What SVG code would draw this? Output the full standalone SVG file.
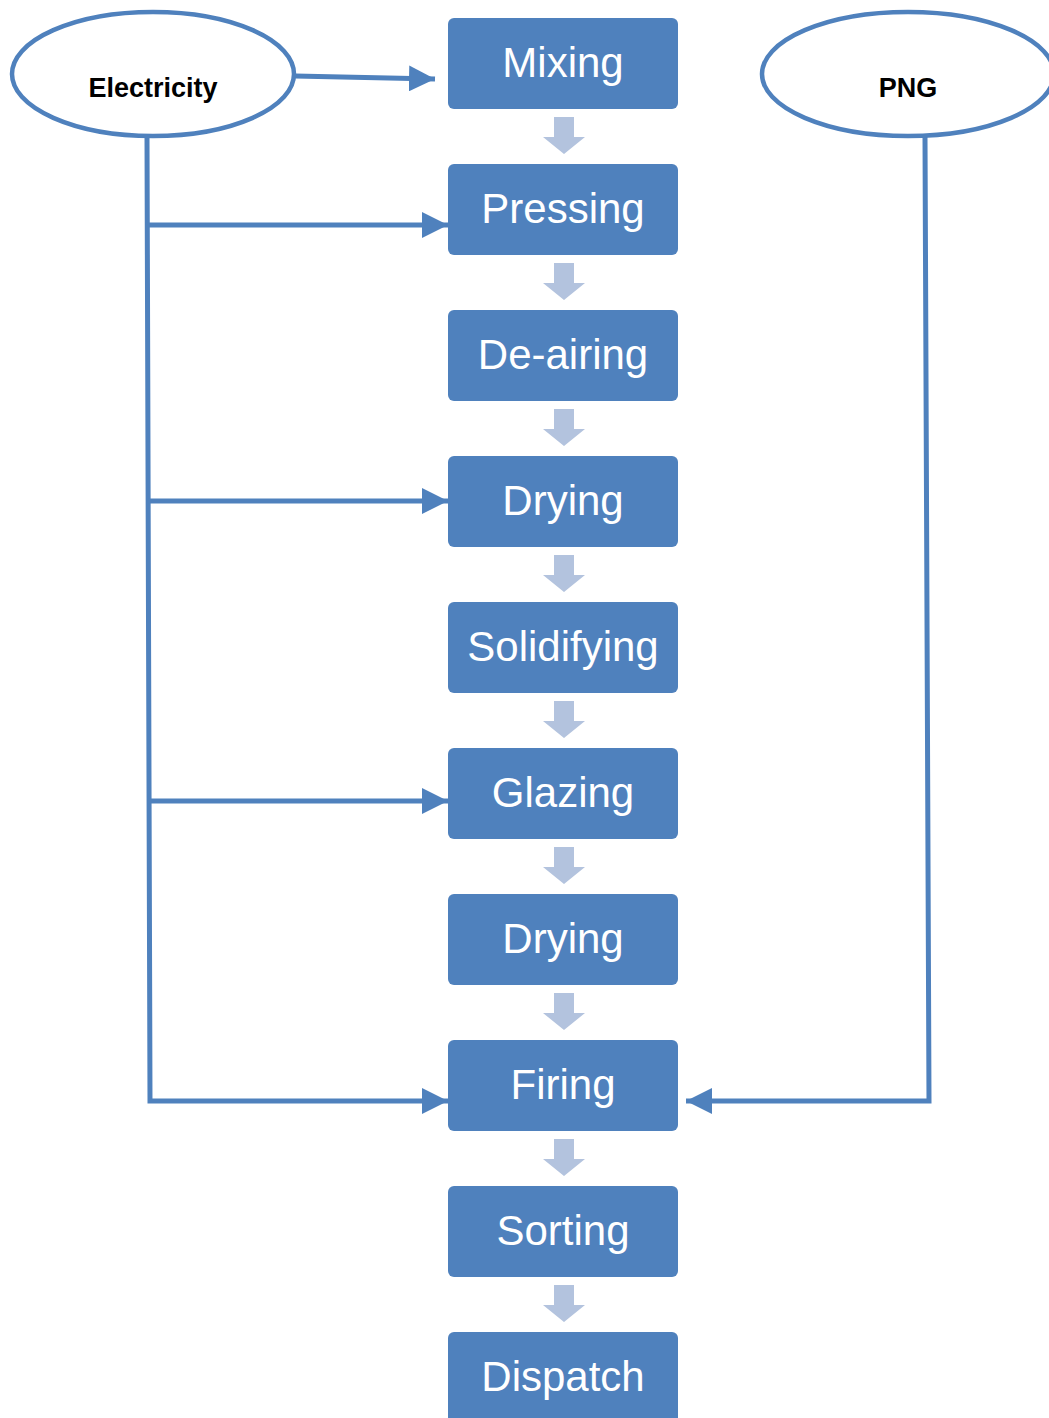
<svg xmlns="http://www.w3.org/2000/svg" width="1049" height="1418" viewBox="0 0 1049 1418">
<defs>
<style>
.box{fill:#4F81BD;stroke:none}
.lbl{font-family:"Liberation Sans",Arial,sans-serif;font-size:42px;fill:#fff;text-anchor:middle}
.src{fill:#fff;stroke:#4F81BD;stroke-width:4.5}
.srct{font-family:"Liberation Sans",Arial,sans-serif;font-size:27px;font-weight:bold;fill:#000;text-anchor:middle}
.ln{fill:none;stroke:#4F81BD;stroke-width:5}
.down{fill:#B3C3DE}
</style>
<marker id="ah" markerUnits="userSpaceOnUse" markerWidth="26" markerHeight="26" viewBox="0 0 24 24" refX="24" refY="12" orient="auto">
<path d="M0,0 L24,12 L0,24 Z" fill="#4F81BD"/>
</marker>
<path id="dn" class="down" d="M-10,0 H10 V20 H21 L0,37 L-21,20 H-10 Z"/>
</defs>
<rect width="1049" height="1418" fill="#fff"/>
<g id="connectors">
<line class="ln" x1="295" y1="76" x2="435" y2="79" marker-end="url(#ah)"/>
<polyline class="ln" points="147,137 150,1101 448,1101" marker-end="url(#ah)"/>
<line class="ln" x1="147" y1="225" x2="448" y2="225" marker-end="url(#ah)"/>
<line class="ln" x1="148" y1="501" x2="448" y2="501" marker-end="url(#ah)"/>
<line class="ln" x1="149" y1="801" x2="448" y2="801" marker-end="url(#ah)"/>
<polyline class="ln" points="925,137 929,1101 686,1101" marker-end="url(#ah)"/>
<use href="#dn" x="564" y="117"/>
<use href="#dn" x="564" y="263"/>
<use href="#dn" x="564" y="409"/>
<use href="#dn" x="564" y="555"/>
<use href="#dn" x="564" y="701"/>
<use href="#dn" x="564" y="847"/>
<use href="#dn" x="564" y="993"/>
<use href="#dn" x="564" y="1139"/>
<use href="#dn" x="564" y="1285"/>
</g>
<g id="electricity"><ellipse class="src" cx="153" cy="74" rx="141" ry="62"/><text class="srct" x="153" y="97">Electricity</text></g>
<g id="png"><ellipse class="src" cx="908" cy="74" rx="146" ry="62"/><text class="srct" x="908" y="97">PNG</text></g>
<g id="mixing"><rect class="box" x="448" y="18" width="230" height="91" rx="6"/><text class="lbl" x="563" y="77">Mixing</text></g>
<g id="pressing"><rect class="box" x="448" y="164" width="230" height="91" rx="6"/><text class="lbl" x="563" y="223">Pressing</text></g>
<g id="deairing"><rect class="box" x="448" y="310" width="230" height="91" rx="6"/><text class="lbl" x="563" y="369">De-airing</text></g>
<g id="drying1"><rect class="box" x="448" y="456" width="230" height="91" rx="6"/><text class="lbl" x="563" y="515">Drying</text></g>
<g id="solidifying"><rect class="box" x="448" y="602" width="230" height="91" rx="6"/><text class="lbl" x="563" y="661">Solidifying</text></g>
<g id="glazing"><rect class="box" x="448" y="748" width="230" height="91" rx="6"/><text class="lbl" x="563" y="807">Glazing</text></g>
<g id="drying2"><rect class="box" x="448" y="894" width="230" height="91" rx="6"/><text class="lbl" x="563" y="953">Drying</text></g>
<g id="firing"><rect class="box" x="448" y="1040" width="230" height="91" rx="6"/><text class="lbl" x="563" y="1099">Firing</text></g>
<g id="sorting"><rect class="box" x="448" y="1186" width="230" height="91" rx="6"/><text class="lbl" x="563" y="1245">Sorting</text></g>
<g id="dispatch"><rect class="box" x="448" y="1332" width="230" height="91" rx="6"/><text class="lbl" x="563" y="1391">Dispatch</text></g>
</svg>
